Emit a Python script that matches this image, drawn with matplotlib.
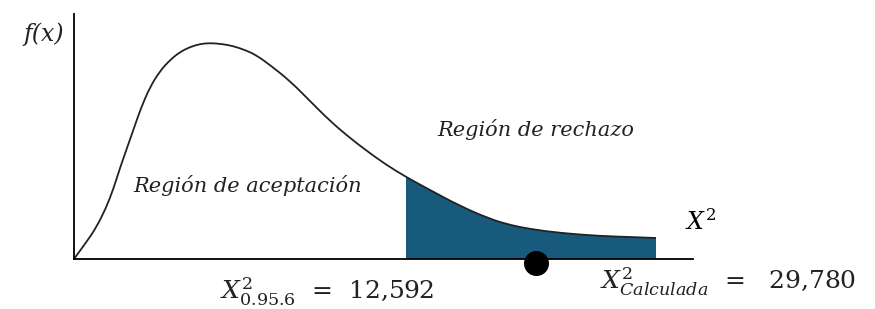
import matplotlib
matplotlib.use('Agg')
import matplotlib.pyplot as plt
from matplotlib.path import Path
from matplotlib.patches import PathPatch
import numpy as np

# curve (x right of origin, height above axis)
curve_px = [74, 85, 96, 106, 113, 120, 127, 134, 141, 150, 160, 170, 180, 190, 200,
            210, 222, 233, 245, 256, 270, 290, 310, 330, 350, 367, 385, 406, 430,
            460, 490, 510, 530, 560, 600, 630, 656]
curve_py = [259, 244, 228, 208, 190, 168, 148, 128, 108, 87, 71, 60, 52, 47, 44,
            43, 44, 46, 50, 55, 65, 81, 101, 121, 138, 151, 164, 177, 190,
            206, 219, 225, 229, 233, 236, 237, 238]
x0, y0 = 74, 259
curve_x = np.array(curve_px) - x0
curve_f = y0 - np.array(curve_py)

crit_x = 406 - x0      # X^2 0.95,6 = 12,592
calc_x = 536 - x0      # X^2 calculada = 29,780 (dot)
x_end = 693 - x0
y_top = 259 - 14


def smooth_path(xs, ys):
    # quadratic bezier through the midpoints, like a hand-drawn curve
    pts = np.column_stack([xs, ys])
    verts = [pts[0]]
    codes = [Path.MOVETO]
    for i in range(1, len(pts) - 1):
        mid = (pts[i] + pts[i + 1]) / 2
        if i == len(pts) - 2:
            mid = pts[i + 1]
        verts += [pts[i], mid]
        codes += [Path.CURVE3, Path.CURVE3]
    return verts, codes


W, H = 875, 309
fig = plt.figure(figsize=(W / 100, H / 100), dpi=100)
ax = fig.add_axes([x0 / W, (H - y0) / H, x_end / W, y_top / H])
ax.set_xlim(0, x_end)
ax.set_ylim(0, y_top)
for s in ['top', 'right']:
    ax.spines[s].set_visible(False)
ax.spines['left'].set_linewidth(1.3)
ax.spines['bottom'].set_linewidth(1.3)
ax.set_xticks([])
ax.set_yticks([])

# shaded rejection region
mask = curve_x >= crit_x
v, c = smooth_path(curve_x[mask], curve_f[mask])
v = v + [(curve_x[mask][-1], 0), (crit_x, 0), v[0]]
c = c + [Path.LINETO, Path.LINETO, Path.CLOSEPOLY]
ax.add_patch(PathPatch(Path(v, c), facecolor='#175a7c', edgecolor='none'))

v, c = smooth_path(curve_x, curve_f)
ax.add_patch(PathPatch(Path(v, c), facecolor='none', edgecolor='#222222', lw=1.3, clip_on=False))
ax.plot(calc_x, -4, 'o', color='black', ms=17, clip_on=False, zorder=5)

tfont = dict(family='DejaVu Serif', style='italic', color='#222222')
ax.text(-10, 225, 'f(x)', fontsize=17, ha='right', va='center', **tfont)
ax.text(59, 74, 'Región de aceptación', fontsize=15, ha='left', va='center', **tfont)
ax.text(363, 129, 'Región de rechazo', fontsize=15, ha='left', va='center', **tfont)
ax.text(611, 37, r'$X^2$', fontsize=17, ha='left', va='center',
        family='DejaVu Serif', math_fontfamily='dejavuserif')
ax.text(146, -40, r'$X^2_{0.95.6}$  =  12,592', fontsize=18, ha='left', va='baseline',
        family='DejaVu Serif', math_fontfamily='dejavuserif', color='#222222')
ax.text(526, -31, r'$X^2_{Calculada}$  =   29,780', fontsize=18, ha='left', va='baseline',
        family='DejaVu Serif', math_fontfamily='dejavuserif', color='#222222')

fig.savefig('out.png', dpi=100)
